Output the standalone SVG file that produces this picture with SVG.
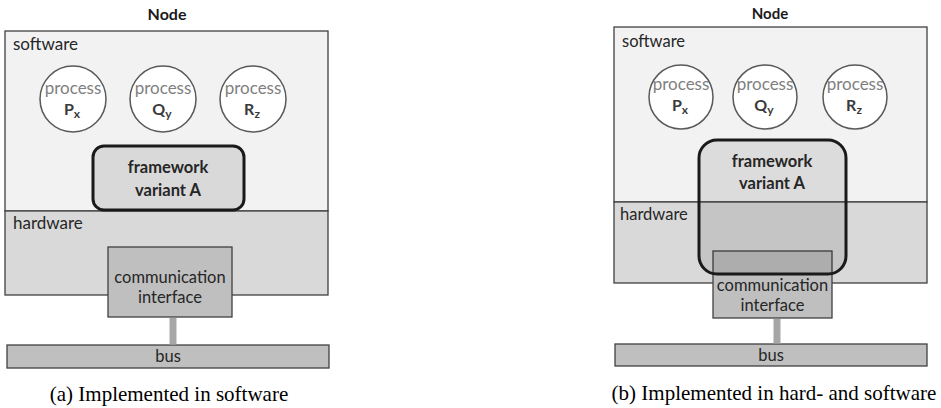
<svg xmlns="http://www.w3.org/2000/svg" width="941" height="408" viewBox="0 0 941 408">
  <style>
    .lbl { font-family: Lato, "Liberation Sans", sans-serif; fill: #262626; }
    .title { font-family: Lato, "Liberation Sans", sans-serif; font-weight: bold; fill: #1a1a1a; text-anchor: middle; }
    .sw { fill: #f2f2f2; stroke: #404040; stroke-width: 1.3; }
    .hw { fill: #d9d9d9; stroke: #404040; stroke-width: 1.3; }
    .proc { fill: #ffffff; stroke: #595959; stroke-width: 1.5; }
    .ptxt { font-family: Lato, "Liberation Sans", sans-serif; fill: #7f7f7f; text-anchor: middle; font-size: 17px; }
    .pname { font-family: Lato, "Liberation Sans", sans-serif; fill: #3a3a3a; font-weight: bold; text-anchor: middle; font-size: 16px; }
    .fw { stroke: #1a1a1a; stroke-width: 3; }
    .fwtxt { font-family: Lato, "Liberation Sans", sans-serif; font-weight: bold; fill: #262626; text-anchor: middle; font-size: 16.5px; }
    .comm { fill: #bfbfbf; stroke: #404040; stroke-width: 1.3; }
    .ctxt { font-family: Lato, "Liberation Sans", sans-serif; fill: #262626; text-anchor: middle; font-size: 16.5px; }
    .bus { fill: #bfbfbf; stroke: #404040; stroke-width: 1.3; }
    .link { stroke: #a6a6a6; stroke-width: 7; fill: none; }
    .cap { font-family: "Liberation Serif", serif; font-size: 21px; fill: #000000; text-anchor: middle; }
  </style>

  <!-- variant (a): framework realised in software only -->
  <g id="nodeA">
    <text class="title" x="167" y="20" font-size="16">Node</text>
    <rect class="sw" x="5" y="31" width="323" height="180"/>
    <rect class="hw" x="5" y="211" width="323" height="84"/>
    <text class="lbl" x="13" y="50" font-size="17">software</text>
    <text class="lbl" x="13" y="229" font-size="17">hardware</text>
  </g>
  <g id="procPxA">
    <circle class="proc" cx="73" cy="99" r="33"/>
    <text class="ptxt" x="73" y="94">process</text>
    <text class="pname" x="72" y="115">P<tspan font-size="12" dy="3">x</tspan></text>
  </g>
  <g id="procQyA">
    <circle class="proc" cx="163" cy="99" r="33"/>
    <text class="ptxt" x="163" y="94">process</text>
    <text class="pname" x="162" y="115">Q<tspan font-size="12" dy="3">y</tspan></text>
  </g>
  <g id="procRzA">
    <circle class="proc" cx="253" cy="99" r="33"/>
    <text class="ptxt" x="253" y="94">process</text>
    <text class="pname" x="252" y="115">R<tspan font-size="12" dy="3">z</tspan></text>
  </g>
  <g id="frameworkA">
    <rect class="fw" x="93" y="146" width="151" height="64" rx="11" fill="#d9d9d9"/>
    <text class="fwtxt" x="168" y="173">framework</text>
    <text class="fwtxt" x="168" y="196">variant A</text>
  </g>
  <g id="commA">
    <rect class="comm" x="108" y="247" width="124" height="70"/>
    <text class="ctxt" x="170" y="283">communication</text>
    <text class="ctxt" x="170" y="303">interface</text>
  </g>
  <g id="busA">
    <rect class="bus" x="7" y="345" width="322" height="23"/>
    <text class="ctxt" x="168" y="362">bus</text>
  </g>
  <text class="cap" x="169" y="401">(a) Implemented in software</text>

  <!-- variant (b): framework spans software and hardware -->
  <g id="nodeB">
    <text class="title" x="770" y="19" font-size="15">Node</text>
    <rect class="sw" x="614" y="27" width="313" height="175"/>
    <rect class="hw" x="614" y="202" width="313" height="81"/>
    <text class="lbl" x="622" y="47" font-size="16.5">software</text>
    <text class="lbl" x="620" y="220" font-size="16.5">hardware</text>
  </g>
  <g id="procPxB">
    <circle class="proc" cx="681" cy="97" r="32"/>
    <text class="ptxt" x="681" y="90">process</text>
    <text class="pname" x="680" y="111">P<tspan font-size="12" dy="3">x</tspan></text>
  </g>
  <g id="procQyB">
    <circle class="proc" cx="765" cy="97" r="32"/>
    <text class="ptxt" x="765" y="90">process</text>
    <text class="pname" x="764" y="111">Q<tspan font-size="12" dy="3">y</tspan></text>
  </g>
  <g id="procRzB">
    <circle class="proc" cx="855" cy="97" r="32"/>
    <text class="ptxt" x="855" y="90">process</text>
    <text class="pname" x="854" y="111">R<tspan font-size="12" dy="3">z</tspan></text>
  </g>
  <g id="commB">
    <rect class="comm" x="713" y="251" width="119" height="67"/>
    <text class="ctxt" x="772.5" y="291" font-size="16">communication</text>
    <text class="ctxt" x="772.5" y="311" font-size="16">interface</text>
  </g>
  <g id="frameworkB">
    <rect class="fw" x="699" y="140" width="147" height="134" rx="18" fill="#000000" fill-opacity="0.09"/>
    <text class="fwtxt" x="772" y="167" font-size="16">framework</text>
    <text class="fwtxt" x="772" y="189" font-size="16">variant A</text>
  </g>
  <g id="busB">
    <rect class="bus" x="615" y="344" width="312" height="22"/>
    <text class="ctxt" x="771" y="361" font-size="16">bus</text>
  </g>
  <text class="cap" x="774" y="400">(b) Implemented in hard- and software</text>

  <!-- links from the communication interfaces to the bus -->
  <g id="connectors">
    <line class="link" x1="173" y1="318" x2="173" y2="344.5"/>
    <line class="link" x1="777" y1="319" x2="777" y2="343.5"/>
  </g>
</svg>
